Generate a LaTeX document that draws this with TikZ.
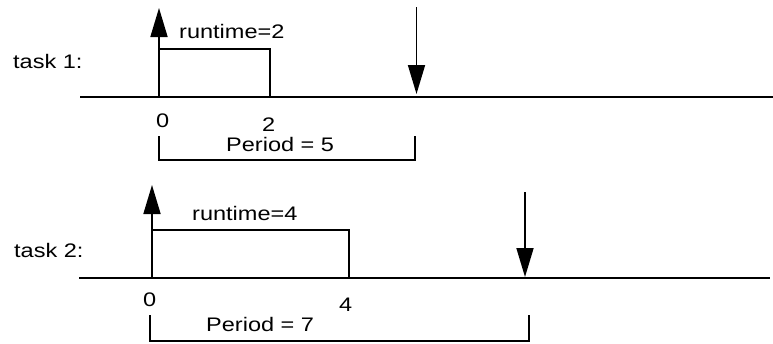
\documentclass[tikz,border=0pt]{standalone}
\usepackage{fontspec}
\setmainfont{Liberation Sans}
\newfontfamily\wfont[FakeStretch=1.2]{Liberation Sans}
\usetikzlibrary{arrows.meta}
\begin{document}
\begin{tikzpicture}[x=1pt,y=-1pt,
  lbl/.style={anchor=base west,inner sep=0pt,font=\wfont\fontsize{19.6}{22}\selectfont},
  axisline/.style={line width=2.2pt},
  thin/.style={line width=1.7pt},
  evt/.style={line width=1.7pt,-{Triangle[length=29pt,width=17pt]}}]
\useasboundingbox (0,0) rectangle (773,343);
% ---- task 1
\coordinate (a1s) at (80,97);
\coordinate (a1e) at (773,97);
\coordinate (o1) at (159,97);
\coordinate (u1) at (159,8);
\coordinate (r1a) at (159,49);
\coordinate (r1b) at (270,49);
\coordinate (r1c) at (270,97);
\coordinate (d1s) at (416.5,7);
\coordinate (d1e) at (416.5,94);
\coordinate (b1a) at (159,136);
\coordinate (b1b) at (159,160);
\coordinate (b1c) at (415,160);
\coordinate (b1d) at (415,136);
\node[lbl] (t1) at (13,68) {task 1:};
\node[lbl] (rt1) at (179,38) {runtime=2};
\node[lbl] (z1) at (156,127) {0};
\node[lbl] (n1) at (262,131) {2};
\node[lbl] (p1) at (226,151) {Period = 5};
\draw[axisline] (a1s) -- (a1e);
\draw[evt] (o1) -- (u1);
\draw[thin] (r1a) -- (r1b) -- (r1c);
\draw[evt] (d1s) -- (d1e);
\draw[thin] (b1a) -- (b1b) -- (b1c) -- (b1d);
% ---- task 2
\coordinate (a2s) at (79,278);
\coordinate (a2e) at (770,278);
\coordinate (o2) at (152,278);
\coordinate (u2) at (152,185);
\coordinate (r2a) at (152,230);
\coordinate (r2b) at (349,230);
\coordinate (r2c) at (349,278);
\coordinate (d2s) at (525,192);
\coordinate (d2e) at (525,277);
\coordinate (b2a) at (150,315);
\coordinate (b2b) at (150,341);
\coordinate (b2c) at (529,341);
\coordinate (b2d) at (529,315);
\node[lbl] (t2) at (14,257) {task 2:};
\node[lbl] (rt2) at (192,220) {runtime=4};
\node[lbl] (z2) at (143,306) {0};
\node[lbl] (n2) at (339,311) {4};
\node[lbl] (p2) at (206,331) {Period = 7};
\draw[axisline] (a2s) -- (a2e);
\draw[evt] (o2) -- (u2);
\draw[thin] (r2a) -- (r2b) -- (r2c);
\draw[evt] (d2s) -- (d2e);
\draw[thin] (b2a) -- (b2b) -- (b2c) -- (b2d);
\end{tikzpicture}
\end{document}
